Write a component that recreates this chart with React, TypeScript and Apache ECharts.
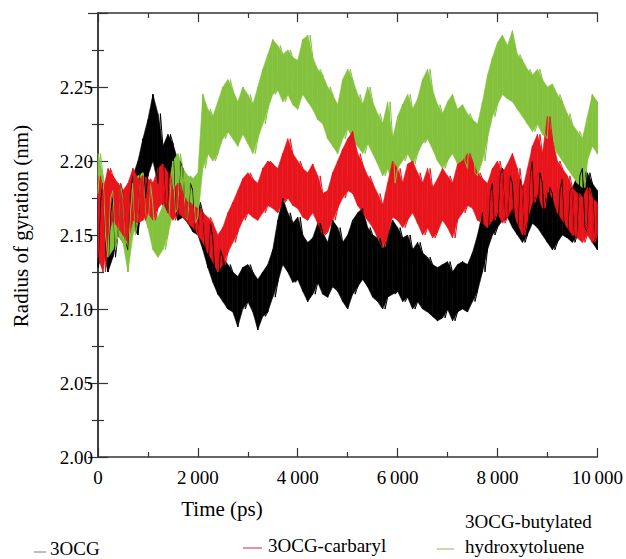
import React, { useEffect, useRef } from 'react';
import * as echarts from 'echarts';

// Sampling grid (ps) for the envelope readings below
const timeStep = 100;
const timeCount = 101;

// 3OCG (black) lower / upper envelope of the trace, nm
const ocgLo = [
  2.128, 2.140, 2.125, 2.135, 2.150, 2.145, 2.140, 2.155, 2.150, 2.175,
  2.190, 2.200, 2.185, 2.170, 2.165, 2.168, 2.160, 2.162, 2.158, 2.152,
  2.150, 2.140, 2.128, 2.118, 2.110, 2.105, 2.100, 2.098, 2.088, 2.100,
  2.105, 2.098, 2.086, 2.095, 2.098, 2.108, 2.118, 2.130, 2.125, 2.118,
  2.120, 2.112, 2.105, 2.110, 2.118, 2.110, 2.108, 2.115, 2.112, 2.105,
  2.100, 2.110, 2.115, 2.120, 2.115, 2.108, 2.105, 2.100, 2.108, 2.110,
  2.112, 2.105, 2.108, 2.100, 2.105, 2.100, 2.098, 2.095, 2.092, 2.094,
  2.100, 2.092, 2.098, 2.100, 2.098, 2.105, 2.112, 2.125, 2.140, 2.150,
  2.155, 2.160, 2.162, 2.155, 2.150, 2.145, 2.150, 2.158, 2.155, 2.150,
  2.145, 2.140, 2.145, 2.150, 2.148, 2.145, 2.150, 2.155, 2.152, 2.145,
  2.140,
];
const ocgHi = [
  2.172, 2.185, 2.165, 2.175, 2.185, 2.178, 2.180, 2.190, 2.200, 2.215,
  2.228, 2.245, 2.232, 2.210, 2.218, 2.212, 2.200, 2.195, 2.185, 2.180,
  2.172, 2.165, 2.158, 2.148, 2.140, 2.135, 2.130, 2.125, 2.122, 2.128,
  2.130, 2.125, 2.120, 2.125, 2.130, 2.140, 2.160, 2.175, 2.165, 2.158,
  2.162, 2.150, 2.145, 2.148, 2.158, 2.152, 2.145, 2.160, 2.155, 2.145,
  2.150, 2.160, 2.165, 2.168, 2.155, 2.150, 2.148, 2.140, 2.150, 2.160,
  2.155, 2.148, 2.150, 2.140, 2.145, 2.138, 2.135, 2.130, 2.128, 2.130,
  2.132, 2.125, 2.130, 2.132, 2.130, 2.138, 2.150, 2.165, 2.178, 2.185,
  2.190, 2.195, 2.190, 2.185, 2.188, 2.182, 2.190, 2.200, 2.192, 2.185,
  2.182, 2.178, 2.180, 2.188, 2.180, 2.182, 2.190, 2.195, 2.192, 2.185,
  2.180,
];

// 3OCG-carbaryl (red)
const carbLo = [
  2.135, 2.125, 2.150, 2.160, 2.155, 2.150, 2.145, 2.160, 2.158, 2.160,
  2.165, 2.160, 2.168, 2.172, 2.165, 2.160, 2.165, 2.162, 2.158, 2.155,
  2.150, 2.145, 2.138, 2.132, 2.125, 2.130, 2.138, 2.145, 2.152, 2.160,
  2.165, 2.162, 2.160, 2.165, 2.170, 2.168, 2.165, 2.172, 2.175, 2.170,
  2.168, 2.162, 2.160, 2.165, 2.158, 2.150, 2.152, 2.160, 2.168, 2.175,
  2.180, 2.178, 2.170, 2.165, 2.160, 2.155, 2.148, 2.142, 2.150, 2.162,
  2.160, 2.155, 2.160, 2.165, 2.158, 2.150, 2.155, 2.148, 2.152, 2.160,
  2.155, 2.148, 2.160, 2.165, 2.170, 2.168, 2.160, 2.158, 2.155, 2.160,
  2.165, 2.158, 2.162, 2.168, 2.158, 2.150, 2.160, 2.172, 2.178, 2.168,
  2.180, 2.175, 2.165, 2.160, 2.155, 2.150, 2.148, 2.145, 2.150, 2.145,
  2.150,
];
const carbHi = [
  2.190, 2.180, 2.195, 2.190, 2.185, 2.180, 2.185, 2.195, 2.188, 2.190,
  2.188, 2.185, 2.195, 2.198, 2.192, 2.180, 2.185, 2.178, 2.172, 2.170,
  2.168, 2.165, 2.162, 2.158, 2.150, 2.155, 2.165, 2.172, 2.180, 2.188,
  2.192, 2.188, 2.185, 2.195, 2.200, 2.198, 2.195, 2.205, 2.215, 2.205,
  2.200, 2.195, 2.192, 2.198, 2.190, 2.178, 2.180, 2.192, 2.200, 2.208,
  2.215, 2.220, 2.205, 2.198, 2.190, 2.185, 2.178, 2.170, 2.185, 2.200,
  2.195, 2.185, 2.198, 2.200, 2.192, 2.185, 2.195, 2.182, 2.188, 2.195,
  2.190, 2.185, 2.198, 2.200, 2.205, 2.200, 2.192, 2.188, 2.185, 2.195,
  2.200, 2.192, 2.198, 2.205, 2.195, 2.180, 2.195, 2.210, 2.218, 2.205,
  2.230, 2.215, 2.200, 2.195, 2.190, 2.182, 2.178, 2.175, 2.182, 2.175,
  2.172,
];

// 3OCG-butylated hydroxytoluene (green)
const bhtLo = [
  2.178, 2.150, 2.135, 2.140, 2.150, 2.145, 2.125, 2.150, 2.160, 2.165,
  2.155, 2.140, 2.135, 2.140, 2.150, 2.165, 2.168, 2.162, 2.160, 2.158,
  2.162, 2.195, 2.205, 2.200, 2.205, 2.215, 2.220, 2.215, 2.210, 2.218,
  2.212, 2.205, 2.215, 2.225, 2.235, 2.245, 2.248, 2.240, 2.245, 2.238,
  2.235, 2.245, 2.240, 2.235, 2.228, 2.225, 2.215, 2.210, 2.205, 2.215,
  2.222, 2.215, 2.210, 2.205, 2.212, 2.205, 2.198, 2.190, 2.195, 2.185,
  2.195, 2.200, 2.205, 2.198, 2.205, 2.212, 2.215, 2.208, 2.200, 2.195,
  2.200, 2.205, 2.198, 2.200, 2.195, 2.192, 2.190, 2.200, 2.215, 2.230,
  2.238, 2.245, 2.242, 2.240, 2.235, 2.230, 2.225, 2.220, 2.225, 2.218,
  2.215, 2.212, 2.205, 2.200, 2.195, 2.190, 2.185, 2.182, 2.200, 2.210,
  2.205,
];
const bhtHi = [
  2.205, 2.190, 2.175, 2.180, 2.185, 2.175, 2.165, 2.185, 2.190, 2.192,
  2.185, 2.170, 2.162, 2.170, 2.180, 2.200, 2.205, 2.195, 2.190, 2.188,
  2.192, 2.245, 2.235, 2.230, 2.240, 2.250, 2.255, 2.248, 2.240, 2.250,
  2.245, 2.238, 2.250, 2.262, 2.272, 2.282, 2.278, 2.272, 2.275, 2.270,
  2.268, 2.282, 2.285, 2.270, 2.262, 2.258, 2.250, 2.245, 2.238, 2.255,
  2.262, 2.255, 2.245, 2.238, 2.250, 2.240, 2.232, 2.225, 2.240, 2.215,
  2.230, 2.238, 2.245, 2.235, 2.242, 2.255, 2.262, 2.248, 2.238, 2.232,
  2.240, 2.245, 2.235, 2.238, 2.232, 2.228, 2.225, 2.240, 2.258, 2.270,
  2.280, 2.285, 2.278, 2.288, 2.272, 2.268, 2.262, 2.258, 2.262, 2.255,
  2.250, 2.252, 2.245, 2.240, 2.232, 2.225, 2.220, 2.215, 2.230, 2.245,
  2.240,
];

const seriesNames = ['3OCG', '3OCG-carbaryl', '3OCG-butylated hydroxytoluene'];
const seriesColors = ['#000000', '#e8151c', '#84c23e'];
const xTicks = [0, 2000, 4000, 6000, 8000, 10000];
const yTickLabels = ['2.00', '2.05', '2.10', '2.15', '2.20', '2.25'];

const FONT = 'Liberation Serif';

function zigzag(lo: number[], hi: number[]): number[][] {
  const out: number[][] = [];
  for (let i = 0; i < timeCount; i++) {
    const t = i * timeStep;
    const a = i % 2 === 0 ? lo[i] : hi[i];
    const b = i % 2 === 0 ? hi[i] : lo[i];
    out.push([t, a]);
    if (i < timeCount - 1) out.push([t + timeStep / 2, b]);
    else out.push([t, b]);
  }
  return out;
}

// Band between envelopes, drawn as quads between consecutive samples via the axis scales
function bandSeries(lo: number[], hi: number[], color: string, z: number) {
  const rows: number[][] = [];
  for (let i = 0; i < timeCount - 1; i++) {
    rows.push([i * timeStep, lo[i], hi[i], (i + 1) * timeStep, lo[i + 1], hi[i + 1]]);
  }
  return {
    type: 'custom',
    silent: true,
    z,
    data: rows,
    encode: { x: [0, 3], y: [1, 2, 4, 5] },
    renderItem: (_params: any, api: any) => {
      const a = api.coord([api.value(0), api.value(2)]);
      const b = api.coord([api.value(3), api.value(5)]);
      const c = api.coord([api.value(3), api.value(4)]);
      const d = api.coord([api.value(0), api.value(1)]);
      return {
        type: 'polygon',
        shape: { points: [a, b, c, d] },
        style: { fill: color, stroke: color, lineWidth: 0.6 },
      };
    },
  };
}

function fmtX(v: number): string {
  if (v === 0) return '0';
  const s = String(v);
  return s.slice(0, s.length - 3) + '\u2009' + s.slice(s.length - 3);
}

export default function App() {
  const ref = useRef<HTMLDivElement>(null);
  useEffect(() => {
    if (!ref.current) return;
    const chart = echarts.init(ref.current, null, { renderer: 'svg' });
    const axisLine = { show: true, lineStyle: { color: '#333', width: 1.5 } };
    const baseX = {
      type: 'value' as const,
      min: 0,
      max: 10000,
      interval: 2000,
      axisLine,
      splitLine: { show: false },
      axisTick: { show: true, inside: true, length: 9, lineStyle: { color: '#333', width: 1.2 } },
      minorTick: { show: true, splitNumber: 2, length: 5, lineStyle: { color: '#333', width: 1.2 } },
    };
    const baseY = {
      type: 'value' as const,
      min: 2.0,
      max: 2.3,
      interval: 0.05,
      axisLine,
      splitLine: { show: false },
      axisTick: { show: true, inside: true, length: 10, lineStyle: { color: '#333', width: 1.2 } },
      minorTick: { show: true, splitNumber: 2, length: 6, lineStyle: { color: '#333', width: 1.2 } },
    };
    chart.setOption({
      animation: false,
      backgroundColor: '#fff',
      textStyle: { fontFamily: FONT, color: '#000' },
      grid: { left: 98, right: 19, top: 13, bottom: 102 },
      xAxis: [
        {
          ...baseX,
          position: 'bottom',
          axisLabel: {
            show: true,
            margin: 11,
            color: '#000',
            fontFamily: FONT,
            fontSize: 19,
            formatter: (v: number) => (xTicks.includes(v) ? fmtX(v) : ''),
          },
        },
        { ...baseX, position: 'top', axisLabel: { show: false } },
      ],
      yAxis: [
        {
          ...baseY,
          position: 'left',
          axisLabel: {
            show: true,
            margin: 5,
            color: '#000',
            fontFamily: FONT,
            fontSize: 19,
            formatter: (v: number) => {
              const s = v.toFixed(2);
              return yTickLabels.includes(s) ? s : '';
            },
          },
        },
        { ...baseY, position: 'right', axisLabel: { show: false } },
      ],
      series: [
        bandSeries(ocgLo, ocgHi, seriesColors[0], 2),
        bandSeries(bhtLo, bhtHi, seriesColors[2], 3),
        bandSeries(carbLo, carbHi, seriesColors[1], 4),
        {
          name: seriesNames[0],
          type: 'line',
          data: zigzag(ocgLo, ocgHi),
          showSymbol: false,
          lineStyle: { color: seriesColors[0], width: 1 },
          z: 5,
        },
        {
          name: seriesNames[2],
          type: 'line',
          data: zigzag(bhtLo, bhtHi),
          showSymbol: false,
          lineStyle: { color: seriesColors[2], width: 1 },
          z: 6,
        },
        {
          name: seriesNames[1],
          type: 'line',
          data: zigzag(carbLo, carbHi),
          showSymbol: false,
          lineStyle: { color: seriesColors[1], width: 1 },
          z: 7,
        },
      ],
      graphic: [
        {
          type: 'text',
          x: 222,
          y: 509,
          style: { text: 'Time (ps)', font: `21px ${FONT}`, fill: '#000', align: 'center', verticalAlign: 'middle' },
        },
        {
          type: 'text',
          x: 21,
          y: 226,
          rotation: Math.PI / 2,
          style: { text: 'Radius of gyration (nm)', font: `21px ${FONT}`, fill: '#000', align: 'center', verticalAlign: 'middle' },
        },
        { type: 'line', shape: { x1: 34, y1: 552, x2: 46, y2: 552 }, style: { stroke: '#a8a8a8', lineWidth: 1.5 } },
        {
          type: 'text',
          x: 50,
          y: 548,
          style: { text: seriesNames[0], font: `19px ${FONT}`, fill: '#000', verticalAlign: 'middle' },
        },
        { type: 'line', shape: { x1: 243, y1: 548, x2: 262, y2: 548 }, style: { stroke: '#d9727a', lineWidth: 1.5 } },
        {
          type: 'text',
          x: 268,
          y: 545,
          style: { text: seriesNames[1], font: `19px ${FONT}`, fill: '#000', verticalAlign: 'middle' },
        },
        { type: 'line', shape: { x1: 437, y1: 549, x2: 454, y2: 549 }, style: { stroke: '#b9cb8f', lineWidth: 1.5 } },
        {
          type: 'text',
          x: 465,
          y: 521,
          style: { text: '3OCG-butylated', font: `19px ${FONT}`, fill: '#000', verticalAlign: 'middle' },
        },
        {
          type: 'text',
          x: 465,
          y: 546,
          style: { text: 'hydroxytoluene', font: `19px ${FONT}`, fill: '#000', verticalAlign: 'middle' },
        },
      ],
    });
    return () => chart.dispose();
  }, []);
  return <div ref={ref} style={{ width: 626, height: 559, position: 'absolute', left: 0, top: 0 }} />;
}
